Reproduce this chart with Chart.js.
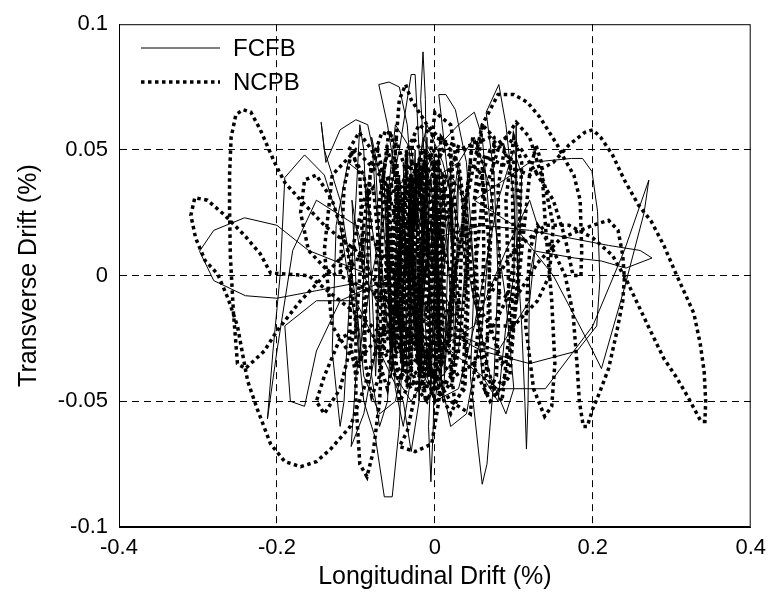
<!DOCTYPE html>
<html>
<head>
<meta charset="utf-8">
<script src="https://cdn.jsdelivr.net/npm/chart.js@4/dist/chart.umd.min.js"></script>
<style>
html,body{margin:0;padding:0;background:#fff;}
canvas{display:block;}
</style>
</head>
<body>
<canvas id="c" width="774" height="598"></canvas>
<script>
const xTicks = [-0.4, -0.2, 0, 0.2, 0.4];
const yTicks = [-0.1, -0.05, 0, 0.05, 0.1];
const xTickLabels = ['-0.4', '-0.2', '0', '0.2', '0.4'];
const yTickLabels = ['-0.1', '-0.05', '0', '0.05', '0.1'];
const seriesNames = ['FCFB', 'NCPB'];

const fcfbPoints = [
[0,0],[0.01,0.03],[-0.005,0.045],[-0.02,0.02],[-0.01,-0.03],[0.005,-0.045],[0.02,-0.01],[0.01,0.04],[-0.015,0.055],[-0.03,0.02],[-0.02,-0.035],[0,-0.05],[0.015,-0.02],
[-0.01,0.03],[-0.018,0.07],[-0.015,0.089],[-0.012,0.07],[-0.01,0.02],[-0.005,-0.04],[-0.008,-0.06],[-0.005,-0.082],[-0.002,-0.06],[0.0,-0.02],
[0.02,0.03],[0.005,0.072],[0.014,0.072],[0.026,0.066],[0.04,0.045],[0.05,0.0],[0.045,-0.04],[0.055,-0.069],[0.06,-0.083],[0.066,-0.075],[0.075,-0.04],[0.08,0.0],[0.075,0.04],[0.065,0.065],[0.081,0.076],[0.09,0.06],[0.1,0.03],[0.11,-0.02],[0.114,-0.05],[0.116,-0.069],[0.118,-0.05],[0.12,0.0],
[0.126,0.0098],[0.177,0.007],[0.211,0.0058],[0.242,0.003],[0.275,0.007],[0.26,0.01],[0.22,0.012],[0.17,0.015],[0.12,0.018],[0.06,0.02],[0.0,0.015],[-0.05,0.01],
[0.02,-0.03],[0.08,-0.045],[0.14,-0.045],[0.2,-0.02],[0.24,0.01],[0.271,0.038],[0.265,0.025],[0.24,-0.005],[0.211,-0.037],[0.2,-0.03],[0.15,0.0],[0.1,0.02],[0.05,0.03],
[0.12,0.045],[0.173,0.0466],[0.187,0.0466],[0.199,0.0414],[0.206,0.0256],[0.209,-0.002],[0.205,-0.02],[0.18,-0.03],[0.12,-0.035],[0.06,-0.03],[0.0,-0.02],
[-0.05,-0.01],[-0.1,-0.003],[-0.15,-0.006],[-0.2,-0.009],[-0.24,-0.008],[-0.28,-0.002],[-0.298,0.0097],[-0.28,0.018],[-0.241,0.023],[-0.2,0.02],[-0.16,0.01],[-0.12,0.005],[-0.08,0.0],
[-0.1,0.02],[-0.15,0.03],[-0.18,0.01],[-0.2,-0.03],[-0.212,-0.057],[-0.205,-0.03],[-0.196,0.0],[-0.19,0.039],[-0.165,0.048],[-0.14,0.04],[-0.12,0.02],[-0.1,-0.02],[-0.09,-0.05],[-0.075,-0.065],[-0.064,-0.088],[-0.054,-0.088],[-0.045,-0.06],[-0.04,-0.02],[-0.045,0.03],[-0.06,0.06],
[-0.071,0.076],[-0.058,0.077],[-0.045,0.075],[-0.035,0.06],[-0.03,0.04],[-0.032,0.0],[-0.04,-0.035],[-0.05,-0.05],[-0.07,-0.055],[-0.09,-0.04],[-0.1,-0.01],
[-0.12,0.03],[-0.14,0.05],[-0.144,0.061],[-0.138,0.045],[-0.12,0.058],[-0.1,0.062],[-0.085,0.06],[-0.075,0.045],[-0.07,0.01],[-0.075,-0.03],[-0.09,-0.055],[-0.106,-0.068],[-0.1,-0.04],[-0.08,0.0],
[-0.045,0.05],[-0.03,0.08],[-0.025,0.08],[-0.02,0.05],[-0.015,0.0],[-0.02,-0.05],[-0.03,-0.07],[-0.04,-0.05],
[-0.1,-0.01],[-0.15,-0.01],[-0.19,-0.02],[-0.183,-0.05],[-0.165,-0.052],[-0.15,-0.03],[-0.12,-0.01],
[-0.05,0.0],[-0.03,0.03],[0.0,0.05],[0.03,0.06],[0.05,0.065],[0.06,0.055],[0.07,0.02],[0.06,-0.02],[0.04,-0.055],[0.02,-0.06],[0.0,-0.03],[-0.01,0.01],[0.005,0.04],[0.03,0.045],[0.04,0.01],[0.03,-0.03],[0.01,-0.04],[-0.02,-0.02],[-0.03,0.025],[-0.01,0.05],[0.02,0.035],[0.025,0.0],[0.01,-0.025],[-0.015,-0.01],[-0.005,0.02],[0.0,0.0],
[-0.03,0.05],[-0.05,0.06],[-0.06,0.03],[-0.055,-0.02],[-0.06,-0.05],[-0.07,-0.06],[-0.08,-0.04],[-0.085,0.01],[-0.09,0.05],[-0.095,0.06],[-0.1,0.03],[-0.11,-0.02],[-0.115,-0.05],[-0.12,-0.06],[-0.13,-0.03],[-0.125,0.02],[-0.11,0.045],[-0.09,0.04],[-0.07,0.0],[-0.05,-0.04],[-0.03,-0.05],[-0.01,-0.04],[0.01,0.0],[0.03,0.045],[0.05,0.055],[0.07,0.035],[0.09,-0.01],[0.1,-0.045],[0.09,-0.055],[0.07,-0.04],[0.05,-0.01],[0.03,0.02],[0.01,0.045],[-0.01,0.06],[-0.02,0.045],[-0.025,0.0],[-0.03,-0.04],[-0.04,-0.06],[-0.05,-0.045],[-0.06,0.0],[-0.07,0.04],[-0.08,0.055],[-0.075,0.03],[-0.06,-0.02],[-0.04,-0.03],[-0.02,-0.01],[0.0,0.02],[0.02,0.04],[0.04,0.03],[0.05,0.0],[0.06,-0.04],[0.08,-0.05],[0.09,-0.02],[0.1,0.0],[0.103,0.06],[0.105,-0.01],[0.11,0.04],[0.1,0.05],[0.08,0.03],[0.05,-0.02],[0.03,-0.045],[0.0,-0.05],[-0.02,-0.03],[-0.04,0.01],[-0.05,0.035],[-0.03,0.04],[0.0,0.0],
[-0.04,0.045],[-0.035,-0.045],[-0.025,0.05],[-0.02,-0.05],[-0.01,0.055],[-0.005,-0.045],[0.005,0.05],[0.012,-0.04],[0.02,0.045],[0.025,-0.035],[0.03,0.04],[0.01,-0.05],[-0.005,0.04],[-0.02,-0.04],[-0.045,0.04],[-0.055,-0.04],[-0.065,0.045],[-0.075,-0.04],[-0.085,0.035],[-0.095,-0.035],[-0.105,0.03],[-0.09,0.0],[-0.05,-0.025],[0.0,-0.03],[0.05,-0.02],[0.09,0.01],[0.12,0.03],[0.13,0.02],[0.12,-0.01],[0.08,-0.03],[0.04,-0.025],[0.0,0.0]
];

const ncpbPoints = [
[0,0],[0.015,0.025],[0.005,0.045],[-0.02,0.04],[-0.03,0.01],[-0.02,-0.025],[0.0,-0.04],[0.02,-0.02],[0.025,0.015],[0.01,0.04],[-0.015,0.05],[-0.04,0.03],[-0.05,-0.01],[-0.035,-0.04],[-0.01,-0.05],[0.015,-0.03],[0.03,0.01],[0.02,0.05],[-0.01,0.06],
[-0.03,0.07],[-0.037,0.076],[-0.045,0.07],[-0.05,0.05],[-0.06,0.02],[-0.065,-0.02],[-0.07,-0.05],[-0.078,-0.07],[-0.086,-0.08],[-0.095,-0.075],[-0.1,-0.05],[-0.1,-0.02],[-0.09,0.02],[-0.08,0.045],[-0.067,0.057],[-0.05,0.055],[-0.035,0.04],[-0.025,0.0],[-0.02,-0.04],
[-0.035,-0.062],[-0.045,-0.068],[-0.025,-0.07],[-0.004,-0.067],[0.005,-0.05],[0.01,-0.02],[0.005,0.02],[-0.005,0.05],[0.0,0.065],[0.02,0.06],[0.035,0.03],[0.04,-0.01],[0.035,-0.045],[0.02,-0.055],
[-0.02,-0.03],[-0.06,-0.01],[-0.1,0.01],[-0.14,0.02],[-0.17,0.03],[-0.19,0.037],[-0.203,0.045],[-0.221,0.058],[-0.233,0.065],[-0.243,0.066],[-0.252,0.064],[-0.258,0.055],[-0.26,0.04],[-0.26,0.027],[-0.259,0.008],[-0.255,-0.015],[-0.25,-0.035],[-0.24,-0.037],[-0.216,-0.03],[-0.2,-0.022],[-0.17,-0.01],[-0.14,0.0],[-0.11,0.01],[-0.08,0.015],
[-0.05,0.0],[-0.04,-0.03],[-0.02,-0.045],[0.0,-0.03],[0.01,0.01],[0.0,0.04],[-0.02,0.045],[-0.03,0.02],[-0.025,-0.02],[-0.01,-0.035],
[0.02,-0.01],[0.04,0.03],[0.06,0.06],[0.08,0.072],[0.1,0.072],[0.117,0.069],[0.133,0.063],[0.143,0.058],[0.155,0.052],[0.163,0.047],[0.176,0.04],[0.184,0.03],[0.186,0.01],[0.185,0.0],[0.175,0.0],[0.165,0.015],[0.15,0.03],[0.13,0.04],[0.11,0.05],[0.09,0.055],[0.07,0.05],[0.05,0.03],[0.04,0.0],[0.03,-0.03],[0.02,-0.045],
[0.0,-0.04],[-0.04,-0.03],[-0.08,-0.02],[-0.12,-0.01],[-0.16,0.0],[-0.208,0.001],[-0.221,0.0086],[-0.241,0.016],[-0.266,0.024],[-0.288,0.03],[-0.304,0.031],[-0.309,0.024],[-0.303,0.015],[-0.291,0.006],[-0.275,0.0006],[-0.262,-0.009],[-0.25,-0.02],[-0.243,-0.032],[-0.237,-0.042],[-0.225,-0.053],[-0.208,-0.067],[-0.19,-0.074],[-0.17,-0.076],[-0.15,-0.074],[-0.132,-0.069],[-0.107,-0.06],[-0.09,-0.045],[-0.07,-0.025],[-0.05,-0.005],
[-0.03,0.02],[-0.015,0.04],[0.0,0.03],[0.01,-0.01],[0.0,-0.04],[-0.015,-0.045],[-0.03,-0.02],[-0.04,0.02],[-0.035,0.05],[-0.02,0.06],
[0.0,0.055],[0.04,0.05],[0.08,0.045],[0.12,0.04],[0.15,0.045],[0.17,0.052],[0.19,0.057],[0.2,0.058],[0.21,0.055],[0.225,0.048],[0.24,0.038],[0.258,0.028],[0.274,0.0216],[0.29,0.012],[0.305,0.001],[0.318,-0.008],[0.328,-0.015],[0.336,-0.027],[0.341,-0.038],[0.343,-0.05],[0.342,-0.058],[0.337,-0.058],[0.32,-0.048],[0.305,-0.04],[0.29,-0.033],[0.27,-0.02],[0.255,-0.01],[0.243,-0.002],[0.225,0.008],[0.2,0.015],[0.17,0.02],[0.14,0.02],[0.1,0.01],[0.07,-0.005],
[0.1,-0.01],[0.13,0.005],[0.16,0.015],[0.2,0.02],[0.22,0.022],[0.232,0.018],[0.238,0.008],[0.24,-0.001],[0.238,-0.01],[0.23,-0.023],[0.22,-0.037],[0.208,-0.047],[0.2,-0.053],[0.193,-0.06],[0.188,-0.06],[0.183,-0.05],[0.18,-0.035],[0.175,-0.015],[0.165,0.0],[0.15,0.01],
[0.13,0.02],[0.12,0.01],[0.115,-0.02],[0.125,-0.045],[0.139,-0.056],[0.148,-0.052],[0.152,-0.035],[0.148,-0.01],[0.14,0.02],[0.135,0.045],[0.128,0.052],[0.12,0.04],[0.11,0.01],[0.1,-0.02],[0.09,-0.04],[0.075,-0.045],[0.06,-0.03],[0.05,0.0],
[0.06,0.03],[0.08,0.05],[0.103,0.061],[0.12,0.055],[0.13,0.045],[0.14,0.035],[0.15,0.02],[0.145,0.0],[0.13,-0.01],[0.1,-0.02],[0.07,-0.02],
[0.05,-0.01],[0.04,0.02],[0.03,0.045],[0.01,0.05],[-0.01,0.035],[-0.02,0.0],[-0.015,-0.03],[0.0,-0.05],[0.02,-0.04],[0.03,-0.01],[0.02,0.02],[0.0,0.035],[-0.02,0.03],[-0.04,0.0],[-0.05,-0.03],[-0.06,-0.045],[-0.07,-0.035],[-0.075,0.0],[-0.07,0.03],[-0.06,0.05],[-0.05,0.04],[-0.045,0.0],[-0.04,-0.035],[-0.03,-0.045],
[-0.06,-0.03],[-0.09,-0.02],[-0.12,-0.025],[-0.14,-0.04],[-0.15,-0.05],[-0.14,-0.055],[-0.12,-0.045],[-0.1,-0.02],[-0.11,0.01],[-0.13,0.03],[-0.15,0.04],[-0.165,0.038],[-0.17,0.025],[-0.16,0.01],[-0.13,0.0],[-0.1,0.005],[-0.08,0.02],[-0.09,0.04],[-0.109,0.05],[-0.096,0.057],[-0.08,0.05],[-0.06,0.035],[-0.04,0.01],[-0.02,-0.01],[-0.06,-0.01],
[-0.12,0.0],[-0.115,0.035],[-0.105,0.05],[-0.095,0.04],[-0.09,0.0],[-0.088,-0.035],[-0.08,-0.048],[-0.07,-0.04],[-0.068,0.0],[-0.065,0.04],[-0.058,0.058],[-0.05,0.05],[-0.048,0.01],[-0.05,-0.03],[-0.045,-0.05],[-0.035,-0.045],[-0.03,-0.01],[-0.032,0.03],[-0.028,0.055],[-0.018,0.05],[-0.015,0.015],[-0.018,-0.025],[-0.012,-0.05],[0.0,-0.045],[0.005,-0.01],[0.0,0.03],[0.008,0.055],[0.02,0.05],[0.022,0.01],[0.018,-0.03],[0.025,-0.05],[0.038,-0.045],[0.042,-0.01],[0.04,0.03],[0.048,0.055],[0.06,0.045],[0.062,0.01],[0.058,-0.03],[0.065,-0.048],[0.078,-0.04],[0.082,0.0],[0.08,0.035],[0.088,0.05],[0.098,0.04],[0.1,0.0],[0.095,-0.03],
[0.085,-0.035],[0.07,-0.02],[0.068,0.015],[0.06,0.04],[0.045,0.045],[0.035,0.02],[0.03,-0.02],[0.022,-0.04],[0.01,-0.035],[0.0,-0.01],[-0.005,0.025],[-0.012,0.045],[-0.025,0.04],[-0.03,0.01],[-0.035,-0.025],[-0.042,-0.04],[-0.055,-0.035],[-0.058,0.0],[-0.062,0.035],[-0.072,0.05],[-0.082,0.04],[-0.085,0.005],[-0.09,-0.03],[-0.1,-0.04],[-0.108,-0.025],[-0.105,0.01],
[-0.09,0.03],[-0.078,0.035],[-0.07,0.01],[-0.065,-0.02],[-0.055,-0.025],[-0.045,0.0],[-0.04,0.03],[-0.03,0.04],[-0.022,0.02],[-0.02,-0.015],[-0.01,-0.03],[0.0,-0.015],[0.002,0.015],[0.01,0.035],[0.02,0.03],[0.025,0.0],[0.02,-0.025],[0.01,-0.03],[-0.005,-0.01],[-0.01,0.02],[-0.02,0.04],[-0.035,0.035],[-0.045,0.01],[-0.05,-0.02],[-0.04,-0.035],[-0.03,-0.02],[-0.025,0.015],[-0.015,0.045],[0.0,0.05],[0.01,0.025],[0.012,-0.01],[0.0,-0.035],[-0.015,-0.04],[-0.025,-0.025],[-0.01,0.0],
[-0.06,0.04],[-0.055,-0.03],[-0.048,0.045],[-0.042,-0.035],[-0.036,0.05],[-0.03,-0.04],[-0.024,0.045],[-0.018,-0.035],[-0.012,0.05],[-0.006,-0.04],[0.0,0.045],[0.006,-0.03],[0.012,0.04],[0.006,-0.035],[0.0,0.04],[-0.008,-0.04],[-0.015,0.045],[-0.022,-0.035],[-0.03,0.04],[-0.038,-0.03],[-0.046,0.04],[-0.052,-0.025],[-0.058,0.035],[-0.064,-0.03],
[-0.05,-0.04],[0.0,-0.045],[0.05,-0.035],[0.09,-0.01],[0.11,0.02],[0.1,0.045],[0.07,0.055],[0.03,0.05],[0.0,0.03],[-0.02,0.0],
[-0.06,-0.02],[-0.1,-0.035],[-0.13,-0.02],[-0.14,0.01],[-0.13,0.04],[-0.1,0.05],[-0.07,0.04],[-0.05,0.01],[-0.04,-0.02],
[0.02,-0.05],[0.045,-0.055],[0.055,-0.02],[0.05,0.03],[0.06,0.06],[0.075,0.055],[0.07,0.01],[0.065,-0.04],[0.085,-0.05],[0.095,-0.02],[0.09,0.03],[0.1,0.055],[0.11,0.045],[0.105,0.0],[0.095,-0.04],[0.07,-0.05],[0.04,-0.03],[0.02,0.0],
[-0.005,0.03],[-0.03,0.045],[-0.05,0.03],[-0.06,0.0],[-0.05,-0.03],[-0.02,-0.04],[0.005,-0.02],[0.01,0.02],[-0.01,0.04],[-0.04,0.035],[-0.055,0.01],[-0.045,-0.02],[-0.02,-0.025],[0.0,0.0],[-0.015,0.025],[-0.035,0.02],[-0.04,-0.01],[-0.025,-0.015],[-0.01,0.005]
];

const toXY = pts => pts.map(p => ({x: p[0], y: p[1]}));

const framePlugin = {
  id: 'frameAndLegend',
  afterDraw(chart) {
    const {ctx, chartArea: a} = chart;
    ctx.save();
    ctx.setLineDash([]);
    ctx.strokeStyle = '#000';
    ctx.lineWidth = 1;
    ctx.strokeRect(a.left + 0.5, a.top + 0.5, a.right - a.left - 1, a.bottom - a.top - 1);
    const ds = chart.data.datasets;
    const rows = [48, 82];
    ctx.font = '24px "Liberation Sans", Arial, sans-serif';
    ctx.textBaseline = 'middle';
    ctx.fillStyle = '#000';
    ds.forEach((d, i) => {
      ctx.beginPath();
      ctx.lineWidth = d.borderWidth;
      ctx.setLineDash(d.borderDash || []);
      ctx.lineCap = 'butt';
      ctx.moveTo(141, rows[i]);
      ctx.lineTo(220, rows[i]);
      ctx.stroke();
      ctx.setLineDash([]);
      ctx.fillText(d.label, 233, rows[i] + 1);
    });
    ctx.restore();
  }
};

new Chart(document.getElementById('c'), {
  type: 'scatter',
  data: {
    datasets: [
      {label: seriesNames[0], data: toXY(fcfbPoints), showLine: true, borderColor: '#000', borderWidth: 1, pointRadius: 0, tension: 0, fill: false},
      {label: seriesNames[1], data: toXY(ncpbPoints), showLine: true, borderColor: '#000', borderWidth: 3.5, borderDash: [3.5, 3.5], pointRadius: 0, tension: 0, fill: false}
    ]
  },
  options: {
    responsive: false,
    animation: false,
    layout: {padding: {top: 22, right: 21, left: 0, bottom: 0}},
    plugins: {legend: {display: false}, tooltip: {enabled: false}},
    scales: {
      x: {
        type: 'linear', min: -0.4, max: 0.4,
        afterBuildTicks: s => { s.ticks = xTicks.map(v => ({value: v})); },
        afterFit: s => { s.height = 71; },
        ticks: {
          color: '#000', padding: 8, maxRotation: 0, autoSkip: false,
          font: {family: '"Liberation Sans", Arial, sans-serif', size: 22},
          callback: (v, i) => xTickLabels[i]
        },
        grid: {color: c => (c.tick && (c.tick.value === -0.4 || c.tick.value === 0.4)) ? 'rgba(0,0,0,0)' : '#000', lineWidth: 1, drawTicks: false},
        border: {display: true, color: '#000', dash: [7, 5]},
        title: {display: true, text: 'Longitudinal Drift (%)', color: '#000', padding: {top: 0, bottom: 6}, font: {family: '"Liberation Sans", Arial, sans-serif', size: 25}}
      },
      y: {
        type: 'linear', min: -0.1, max: 0.1,
        afterBuildTicks: s => { s.ticks = yTicks.map(v => ({value: v})); },
        afterFit: s => { s.width = 119; },
        ticks: {
          color: '#000', padding: 11, autoSkip: false,
          font: {family: '"Liberation Sans", Arial, sans-serif', size: 22},
          callback: (v, i) => yTickLabels[i]
        },
        grid: {color: c => (c.tick && (Math.abs(c.tick.value) > 0.099)) ? 'rgba(0,0,0,0)' : '#000', lineWidth: 1, drawTicks: false},
        border: {display: true, color: '#000', dash: [7, 5]},
        title: {display: true, text: 'Transverse Drift (%)', color: '#000', padding: {top: 14, bottom: 0}, font: {family: '"Liberation Sans", Arial, sans-serif', size: 25}}
      }
    }
  },
  plugins: [framePlugin]
});
</script>
</body>
</html>
